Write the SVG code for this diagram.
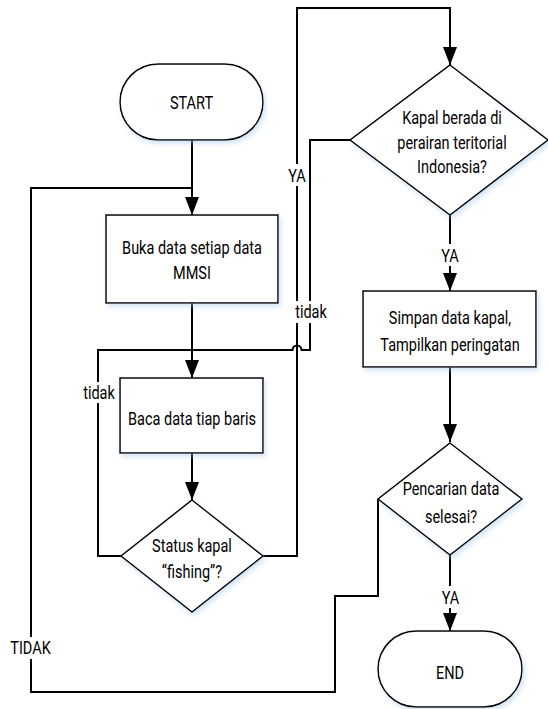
<svg xmlns="http://www.w3.org/2000/svg" width="548" height="709" viewBox="0 0 548 709">
  <style>
    .shape { fill: #ffffff; stroke: #000000; stroke-width: 1.5; filter: url(#glow); }
    .flow { fill: none; stroke: #000000; stroke-width: 2; stroke-linejoin: miter; }
    .arrow { marker-end: url(#head); }
    text { font-family: Roboto, "Liberation Sans", Arial, sans-serif; font-size: 14.5px; fill: #000000; text-anchor: middle; }
    .gap { fill: #ffffff; stroke: none; }
  </style>
  <defs>
    <marker id="head" viewBox="0 0 18 14" refX="18" refY="7" markerWidth="18" markerHeight="14" markerUnits="userSpaceOnUse" orient="auto">
      <path d="M0,0 L18,7 L0,14 Z" fill="#000000"/>
    </marker>
    <filter id="glow" x="-20%" y="-20%" width="140%" height="150%">
      <feDropShadow dx="2" dy="3" stdDeviation="2.5" flood-color="#9dc3e6" flood-opacity="0.45"/>
    </filter>
  </defs>

  <rect width="548" height="709" fill="#ffffff"/>

  <!-- connectors -->
  <g id="connectors">
    <path class="flow arrow" d="M192,140 L192,215"/>
    <path class="flow" d="M378,499 L378,596 L335,596 L335,692 L31,692 L31,188 L192,188"/>
    <path class="flow arrow" d="M192,303 L192,378"/>
    <path class="flow" d="M121,556 L98,556 L98,350 L192,350"/>
    <path class="flow arrow" d="M263,556 L297,556 L297,8 L450,8 L450,65"/>
    <path class="flow" d="M350,140 L310,140 L310,350 L301.5,350 A4.5,4.5 0 0 0 292.5,350 L192,350"/>
    <path class="flow arrow" d="M192,453 L192,500"/>
    <path class="flow arrow" d="M450,215 L450,291"/>
    <path class="flow arrow" d="M450,367 L450,442"/>
    <path class="flow arrow" d="M450,555 L450,631"/>

    <!-- connector labels (text is stretched 1.3x vertically) -->
    <g id="label-ya-top">
      <rect class="gap" x="287" y="164" width="20" height="22"/>
      <text transform="matrix(1 0 0 1.3 297 181.5)">YA</text>
    </g>
    <g id="label-tidak-right">
      <rect class="gap" x="294" y="301" width="34" height="22"/>
      <text transform="matrix(1 0 0 1.3 311 318)">tidak</text>
    </g>
    <g id="label-tidak-left">
      <rect class="gap" x="82" y="382" width="34" height="21"/>
      <text transform="matrix(1 0 0 1.3 99 399)">tidak</text>
    </g>
    <g id="label-ya-kapal">
      <rect class="gap" x="440" y="244" width="20" height="22"/>
      <text transform="matrix(1 0 0 1.3 450 262)">YA</text>
    </g>
    <g id="label-ya-selesai">
      <rect class="gap" x="440" y="586" width="20" height="22"/>
      <text transform="matrix(1 0 0 1.3 450.5 603.5)">YA</text>
    </g>
    <g id="label-tidak-bottom">
      <rect class="gap" x="9" y="637" width="44" height="22"/>
      <text transform="matrix(1 0 0 1.3 30.5 654)">TIDAK</text>
    </g>
  </g>

  <!-- nodes -->
  <g id="start">
    <rect class="shape" x="120" y="64" width="143" height="76" rx="38" ry="38"/>
    <text transform="matrix(1 0 0 1.3 191.5 109)">START</text>
  </g>

  <g id="buka-data">
    <rect class="shape" x="106" y="215" width="172" height="88"/>
    <text transform="matrix(1 0 0 1.3 192 254)">Buka data setiap data</text>
    <text transform="matrix(1 0 0 1.3 192 279)">MMSI</text>
  </g>

  <g id="baca-data">
    <rect class="shape" x="120" y="378" width="143" height="75"/>
    <text transform="matrix(1 0 0 1.3 192 424.5)">Baca data tiap baris</text>
  </g>

  <g id="status-kapal">
    <polygon class="shape" points="192,500 263,556 192,612 121,556"/>
    <text transform="matrix(1 0 0 1.3 192 552)">Status kapal</text>
    <text transform="matrix(1 0 0 1.3 192 578)">“fishing”?</text>
  </g>

  <g id="kapal-berada">
    <polygon class="shape" points="450,65 548,140 450,215 350,140"/>
    <text transform="matrix(1 0 0 1.3 452 124)">Kapal berada di</text>
    <text transform="matrix(1 0 0 1.3 452 149)">perairan teritorial</text>
    <text transform="matrix(1 0 0 1.3 452 173)">Indonesia?</text>
  </g>

  <g id="simpan-data">
    <rect class="shape" x="363" y="291" width="173" height="76"/>
    <text transform="matrix(1 0 0 1.3 450 324)">Simpan data kapal,</text>
    <text transform="matrix(1 0 0 1.3 450 351)">Tampilkan peringatan</text>
  </g>

  <g id="pencarian-selesai">
    <polygon class="shape" points="450,443 522,499 450,555 378,499"/>
    <text transform="matrix(1 0 0 1.3 451 495)">Pencarian data</text>
    <text transform="matrix(1 0 0 1.3 451 523)">selesai?</text>
  </g>

  <g id="end">
    <rect class="shape" x="378" y="631" width="144" height="76" rx="38" ry="38"/>
    <text transform="matrix(1 0 0 1.3 450 678.5)">END</text>
  </g>
</svg>
